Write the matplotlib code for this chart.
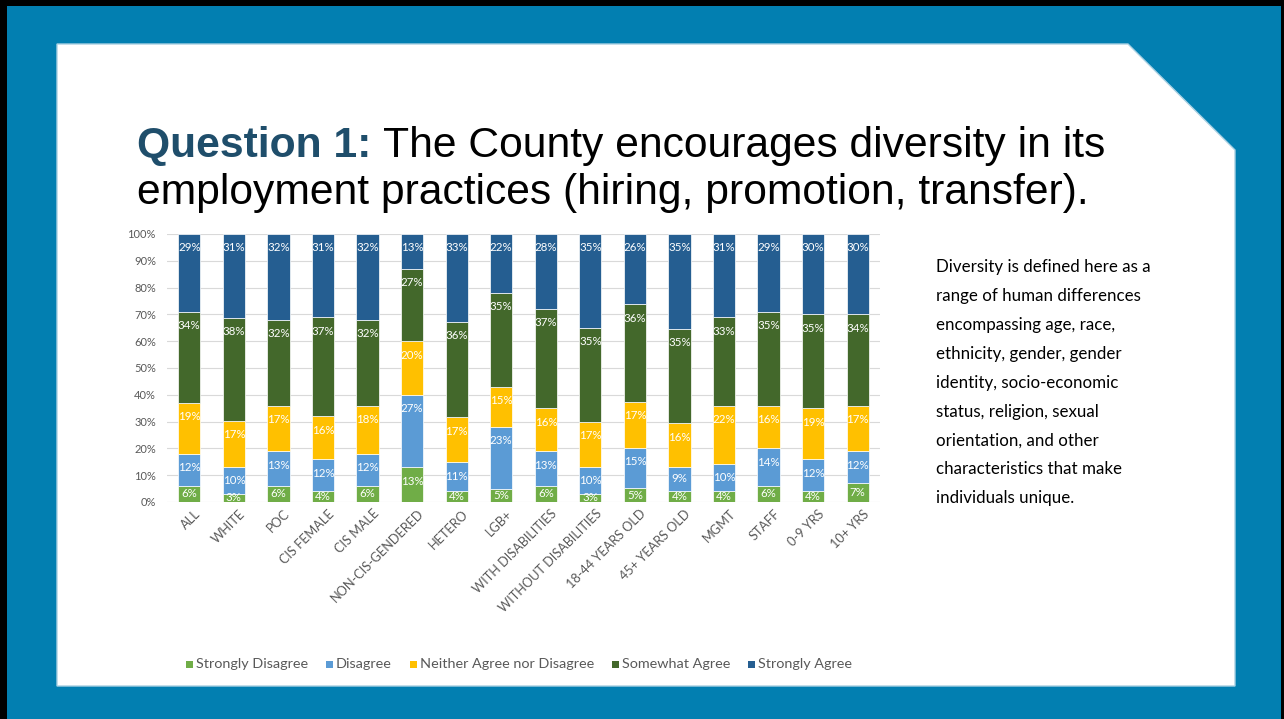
import matplotlib
matplotlib.use("Agg")
import matplotlib.pyplot as plt
from matplotlib.patches import Polygon, Rectangle
from matplotlib.transforms import ScaledTranslation
import numpy as np

W, H = 1284, 719

categories = ["ALL", "WHITE", "POC", "CIS FEMALE", "CIS MALE", "NON-CIS-GENDERED",
              "HETERO", "LGB+", "WITH DISABILITIES", "WITHOUT DISABILITIES",
              "18-44 YEARS OLD", "45+ YEARS OLD", "MGMT", "STAFF", "0-9 YRS", "10+ YRS"]

series_names = ["Strongly Disagree", "Disagree", "Neither Agree nor Disagree",
                "Somewhat Agree", "Strongly Agree"]

strongly_disagree = [6, 3, 6, 4, 6, 13, 4, 5, 6, 3, 5, 4, 4, 6, 4, 7]
disagree          = [12, 10, 13, 12, 12, 27, 11, 23, 13, 10, 15, 9, 10, 14, 12, 12]
neither           = [19, 17, 17, 16, 18, 20, 17, 15, 16, 17, 17, 16, 22, 16, 19, 17]
somewhat_agree    = [34, 38, 32, 37, 32, 27, 36, 35, 37, 35, 36, 35, 33, 35, 35, 34]
strongly_agree    = [29, 31, 32, 31, 32, 13, 33, 22, 28, 35, 26, 35, 31, 29, 30, 30]

y_ticks = [0, 10, 20, 30, 40, 50, 60, 70, 80, 90, 100]

colors = ["#70AD47", "#5B9BD5", "#FFC000", "#43682B", "#255E91"]
TEAL = "#027FB1"
TITLE_BLUE = "#1F4E6B"
GRAY = "#595959"

body_font = ["Lato", "DejaVu Sans"]
title_font = ["Liberation Sans", "DejaVu Sans"]


def fx(x):
    return x / W


def fy(y):
    return 1 - y / H


fig = plt.figure(figsize=(W / 100, H / 100), dpi=100)
fig.patch.set_facecolor("black")

# slide background and white content panel
fig.patches.append(Rectangle((fx(7), 0), fx(1281) - fx(7), fy(6),
                             transform=fig.transFigure, facecolor=TEAL,
                             edgecolor="none", zorder=-2))
panel_pts = [(57, 44), (1128, 44), (1235, 150), (1235, 686), (57, 686)]
fig.patches.append(Polygon([(fx(x), fy(y)) for x, y in panel_pts], closed=True,
                           transform=fig.transFigure, facecolor="white",
                           edgecolor="#A9D0E2", linewidth=1.0, zorder=-1))

# title
fig.text(fx(137), fy(157), "Question 1:", fontsize=30.7, fontweight="bold",
         color=TITLE_BLUE, family=title_font, va="baseline", ha="left")
fig.text(fx(383), fy(157), "The County encourages diversity in its", fontsize=30.7,
         color="black", family=title_font, va="baseline", ha="left")
fig.text(fx(137), fy(204), "employment practices (hiring, promotion, transfer).",
         fontsize=30.7, color="black", family=title_font, va="baseline", ha="left")

# side note
note_lines = ["Diversity is defined here as a", "range of human differences",
              "encompassing age, race,", "ethnicity, gender, gender",
              "identity, socio-economic", "status, religion, sexual",
              "orientation, and other", "characteristics that make",
              "individuals unique."]
for i, line in enumerate(note_lines):
    fig.text(fx(936), fy(267 + 28.9 * i), line, fontsize=12.2, color="black",
             family=body_font, va="center", ha="left")

# chart
ax = fig.add_axes([fx(167), fy(502), fx(880) - fx(167), fy(234) - fy(502)])
ax.set_zorder(2)
ax.set_facecolor("none")
data = np.array([strongly_disagree, disagree, neither, somewhat_agree, strongly_agree],
                dtype=float)
shares = data / data.sum(axis=0) * 100
x = np.arange(len(categories))
bottom = np.zeros(len(categories))
label_offset = 5.2
for k in range(len(series_names)):
    ax.bar(x, shares[k], bottom=bottom, width=0.5, color=colors[k],
           edgecolor="white", linewidth=0.5, label=series_names[k], zorder=2)
    for i in range(len(categories)):
        top = bottom[i] + shares[k][i]
        ypos = max(top - label_offset, (bottom[i] + top) / 2)
        ax.text(x[i], ypos, f"{int(data[k][i])}%", ha="center", va="center",
                fontsize=8.3, color="white", family=body_font, zorder=3,
                clip_on=True)
    bottom += shares[k]

ax.set_xlim(-0.5, len(categories) - 0.5)
ax.set_ylim(0, 100)
ax.set_yticks(y_ticks)
ax.set_yticklabels([f"{t}%" for t in y_ticks])
ax.grid(axis="y", color="#D9D9D9", linewidth=0.8, zorder=0)
ax.set_axisbelow(True)
for s in ax.spines.values():
    s.set_visible(False)
ax.tick_params(axis="both", length=0, colors=GRAY, labelsize=8)
ax.tick_params(axis="y", pad=8)
ax.tick_params(axis="x", pad=4)
ax.set_xticks(x)
ax.set_xticklabels(categories, rotation=45, ha="right", va="top",
                   rotation_mode="anchor", fontsize=9.2, color=GRAY)
shift = ScaledTranslation(5 / 100, 0, fig.dpi_scale_trans)
for lbl in ax.get_xticklabels():
    lbl.set_transform(lbl.get_transform() + shift)
for lbl in ax.get_xticklabels() + ax.get_yticklabels():
    lbl.set_family(body_font)

# legend row, laid out from measured text widths
fig.canvas.draw()
renderer = fig.canvas.get_renderer()
leg_texts = []
widths = []
for name in series_names:
    t = fig.text(0, fy(664), name, fontsize=10.4, color=GRAY, family=body_font,
                 va="center", ha="left")
    leg_texts.append(t)
    widths.append(t.get_window_extent(renderer).width)
sq, sq_gap, item_gap = 7, 3, 18
total = sum(sq + sq_gap + w for w in widths) + item_gap * (len(widths) - 1)
cur = 519 - total / 2
for k, (t, w) in enumerate(zip(leg_texts, widths)):
    fig.patches.append(Rectangle((fx(cur), fy(664 + sq / 2)), sq / W, sq / H,
                                 transform=fig.transFigure, facecolor=colors[k],
                                 edgecolor="none", zorder=3))
    t.set_x(fx(cur + sq + sq_gap))
    cur += sq + sq_gap + w + item_gap

fig.savefig("out.png", dpi=100, facecolor=fig.get_facecolor())
